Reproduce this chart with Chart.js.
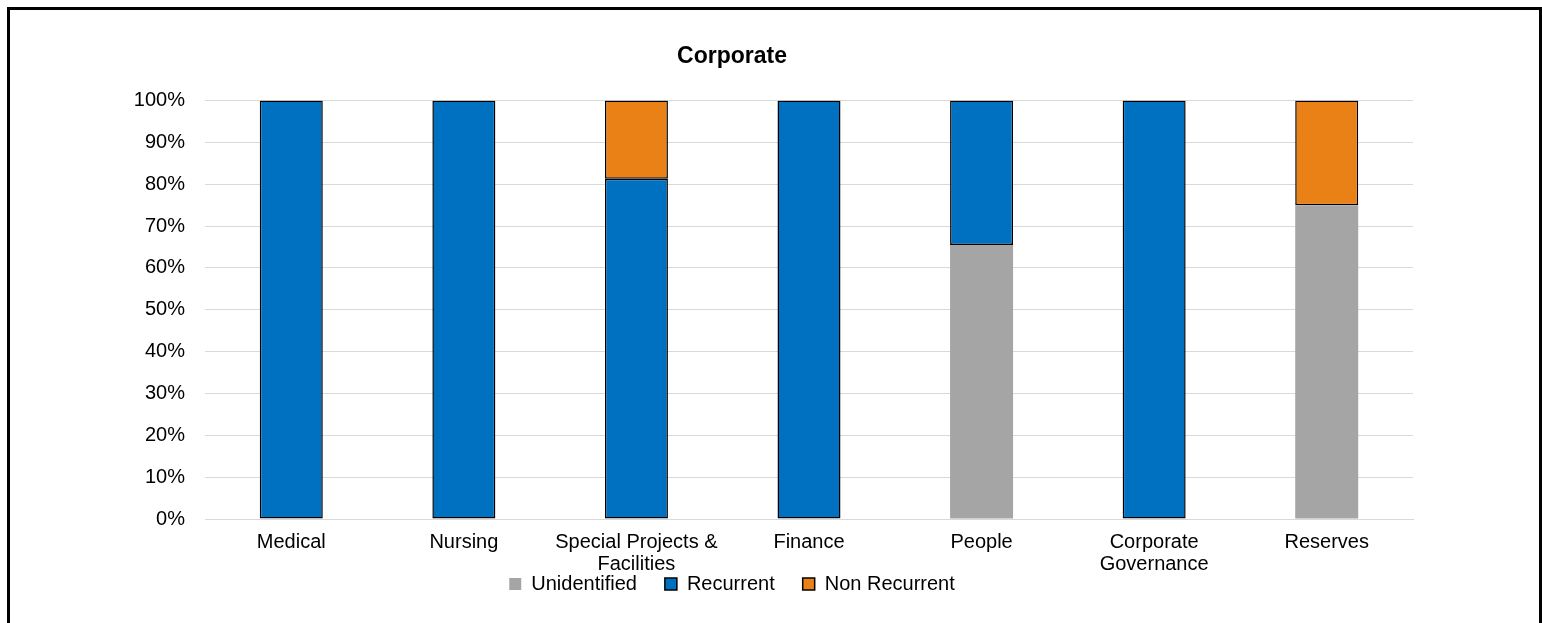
<!DOCTYPE html>
<html>
<head>
<meta charset="utf-8">
<script src="https://cdn.jsdelivr.net/npm/chart.js@4/dist/chart.umd.min.js"></script>
<style>
  html, body { margin: 0; padding: 0; background: #fff; overflow: hidden; }
  #frame { position: absolute; left: 7px; top: 7px; width: 1529px; height: 700px;
           border-top: 3px solid #000; border-left: 3px solid #000; border-right: 3px solid #000; pointer-events: none; }
  canvas { position: absolute; left: 0; top: 0; }
</style>
</head>
<body>
<canvas id="c" width="1542" height="623"></canvas>
<div id="frame"></div>
<script>
const title = 'Corporate';
const categories = ['Medical', 'Nursing', ['Special Projects &', 'Facilities'], 'Finance', 'People', ['Corporate', 'Governance'], 'Reserves'];
const seriesNames = ['Unidentified', 'Recurrent', 'Non Recurrent'];
const unidentified = [null, null, null, null, 65.5, null, 75];
const recurrent = [100, 100, 81.3, 100, 34.5, 100, null];
const nonRecurrent = [null, null, 18.7, null, null, null, 25];
const yTicks = [0, 10, 20, 30, 40, 50, 60, 70, 80, 90, 100];

const FONT = "'Liberation Sans', Arial, sans-serif";

new Chart(document.getElementById('c'), {
  type: 'bar',
  data: {
    labels: categories,
    datasets: [
      { label: seriesNames[0], data: unidentified, backgroundColor: '#A5A5A5', borderColor: '#A5A5A5', borderWidth: 0 },
      { label: seriesNames[1], data: recurrent, backgroundColor: '#0070C0', borderColor: '#000000', borderWidth: 1.5, borderSkipped: false },
      { label: seriesNames[2], data: nonRecurrent, backgroundColor: '#EA8117', borderColor: '#000000', borderWidth: 1.5, borderSkipped: false }
    ]
  },
  options: {
    responsive: false,
    animation: false,
    layout: { padding: { left: 51, right: 129, top: 10, bottom: 19 } },
    datasets: { bar: { barPercentage: 0.365, categoryPercentage: 1.0 } },
    plugins: {
      title: {
        display: true, text: title, color: '#000',
        font: { family: FONT, size: 23, weight: 'bold', lineHeight: 1.2 },
        padding: { top: 33, bottom: 30 }
      },
      legend: {
        position: 'bottom',
        labels: {
          color: '#000', boxWidth: 12, boxHeight: 12, padding: 28,
          font: { family: FONT, size: 20 }
        }
      },
      tooltip: { enabled: false }
    },
    scales: {
      x: {
        stacked: true,
        grid: { display: false, drawTicks: false },
        border: { display: true, color: '#d9d9d9', width: 1 },
        ticks: { color: '#000', padding: 12, maxRotation: 0, autoSkip: false,
                 font: { family: FONT, size: 20, lineHeight: 1.1 } },
        afterFit: (s) => { s.height = 27; s._computeLabelArea = () => undefined; }
      },
      y: {
        stacked: true, min: 0, max: 100,
        grid: { color: '#d9d9d9', lineWidth: 1, drawTicks: false },
        border: { display: false },
        afterBuildTicks: (s) => { s.ticks = yTicks.map(v => ({ value: v })); },
        ticks: { color: '#000', padding: 20, font: { family: FONT, size: 20 },
                 callback: (v) => v + '%' },
        afterFit: (s) => { s.width = 154; }
      }
    }
  }
});
</script>
</body>
</html>
